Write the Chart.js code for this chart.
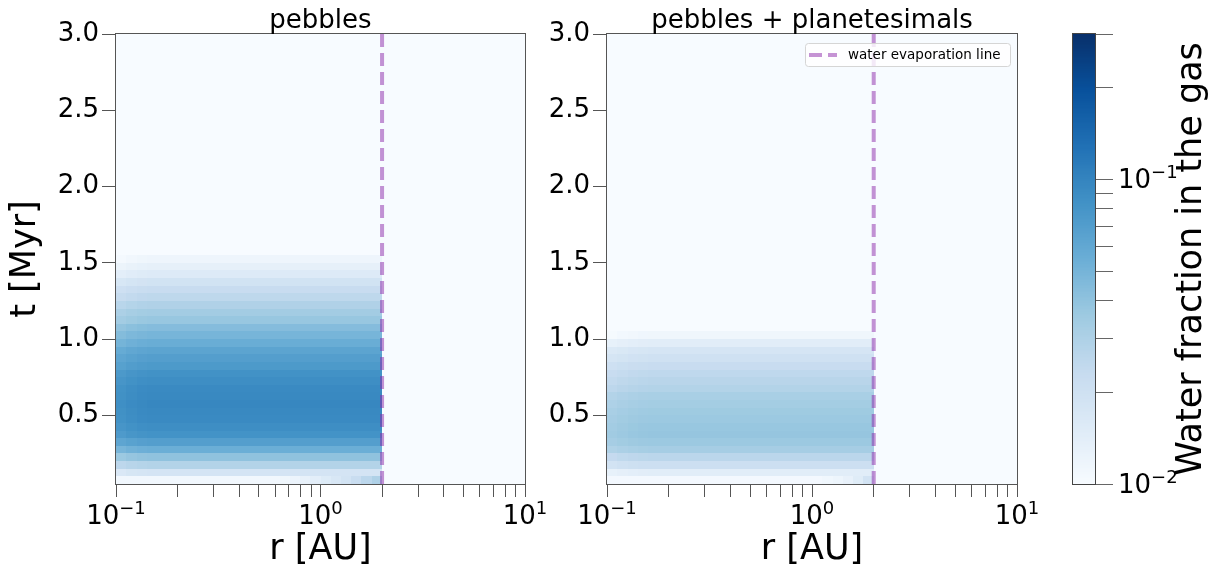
<!DOCTYPE html>
<html>
<head>
<meta charset="utf-8">
<script src="https://cdn.jsdelivr.net/npm/chart.js@4.4.1/dist/chart.umd.min.js"></script>
<style>
  html, body { margin: 0; padding: 0; background: #fff; }
  #wrap { position: relative; width: 1220px; height: 572px; }
  #wrap canvas { position: absolute; left: 0; top: 0; }
</style>
</head>
<body>
<div id="wrap">
  <canvas id="left" width="1220" height="572"></canvas>
  <canvas id="right" width="1220" height="572"></canvas>
  <canvas id="cbar" width="1220" height="572"></canvas>
</div>
<script>
// ---- values ----
const panelTitles = ['pebbles', 'pebbles + planetesimals'];
const legendLabel = 'water evaporation line';
const cbarLabel = 'Water fraction in the gas';

const rRange = [0.1, 10];
const tRange = [0.05, 3.0];
const cbarRange = [0.01, 0.3];
const evapLineR = 2.0;

// radial cell edges (AU), inside the evaporation line
const rEdges = [0.1, 0.112, 0.126, 0.141, 0.158, 0.178, 0.2, 0.224, 0.251, 0.282, 0.316, 0.355, 0.398,
  0.447, 0.501, 0.562, 0.631, 0.708, 0.794, 0.891, 1.0, 1.122, 1.259, 1.413, 1.585, 1.778, 2.0];

// time rows: lowest row [0.05, 0.10] is kept separately (it varies with r)
const bottomRowT = [0.05, 0.10];
const tStep = 0.05;
const tStarts = [0.10, 0.15, 0.20, 0.25, 0.30, 0.35, 0.40, 0.45, 0.50, 0.55, 0.60, 0.65, 0.70, 0.75,
  0.80, 0.85, 0.90, 0.95, 1.00, 1.05, 1.10, 1.15, 1.20, 1.25, 1.30, 1.35, 1.40, 1.45, 1.50];

// water fraction per time row (from t = 0.10 upward)
const pebblesRows = [0.0184, 0.0287, 0.0404, 0.0548, 0.0697, 0.0826, 0.0884, 0.0930, 0.0946, 0.0962,
  0.0946, 0.0930, 0.0884, 0.0840, 0.0745, 0.0697, 0.0640, 0.0558, 0.0495, 0.0441, 0.0377, 0.0341,
  0.0297, 0.0255, 0.0226, 0.0191, 0.0156, 0.0134, 0.0117];
const planetRows = [0.0145, 0.0212, 0.0264, 0.0329, 0.0365, 0.0384, 0.0377, 0.0365, 0.0353, 0.0335,
  0.0318, 0.0287, 0.0269, 0.0251, 0.0226, 0.0198, 0.0178, 0.0145, 0.0115];

// slight radial variation (inner edge a bit paler)
const pebblesColFactor = [0.9, 0.95, 0.98, 1, 1, 1, 1, 1, 1, 1, 1, 1, 1, 1, 1, 1, 1, 1, 1, 1, 1, 1, 1, 1, 1, 1];
const planetColFactor = [0.9, 0.94, 0.97, 0.99, 1, 1, 1, 1, 1, 1, 1, 1, 1, 1, 1, 1, 1, 1, 1, 1, 1, 1, 1, 1, 1, 1];

// lowest row, per radial cell
const pebblesBottomRow = [0.011, 0.011, 0.011, 0.011, 0.011, 0.011, 0.011, 0.011, 0.011, 0.011, 0.011,
  0.011, 0.011, 0.011, 0.011, 0.011, 0.0115, 0.012, 0.013, 0.014, 0.0155, 0.017, 0.019, 0.022, 0.026, 0.030];
const planetBottomRow = [0.0107, 0.0107, 0.0107, 0.0107, 0.0107, 0.0107, 0.0107, 0.0107, 0.0107, 0.0107,
  0.0107, 0.0107, 0.0107, 0.0107, 0.0107, 0.0107, 0.0107, 0.0107, 0.0107, 0.0107, 0.0107, 0.0112, 0.0118,
  0.013, 0.015, 0.019];

// tick values
const tTicks = [0.5, 1.0, 1.5, 2.0, 2.5, 3.0];
const rTicks = [0.1, 0.2, 0.3, 0.4, 0.5, 0.6, 0.7, 0.8, 0.9, 1, 2, 3, 4, 5, 6, 7, 8, 9, 10];
const cbarTicks = [0.01, 0.02, 0.03, 0.04, 0.05, 0.06, 0.07, 0.08, 0.09, 0.1, 0.2, 0.3];

// ---- colour map (matplotlib "Blues") on a log norm ----
const BLUES = [[247, 251, 255], [222, 235, 247], [198, 219, 239], [158, 202, 225], [107, 174, 214],
  [66, 146, 198], [33, 113, 181], [8, 81, 156], [8, 48, 107]];

function blues(v) {
  const lo = Math.log10(cbarRange[0]), hi = Math.log10(cbarRange[1]);
  let p = (Math.log10(Math.max(v, 1e-9)) - lo) / (hi - lo);
  p = Math.min(1, Math.max(0, p)) * (BLUES.length - 1);
  const i = Math.min(BLUES.length - 2, Math.floor(p));
  const f = p - i;
  const c = BLUES[i].map((a, k) => Math.round(a + (BLUES[i + 1][k] - a) * f));
  return `rgb(${c[0]},${c[1]},${c[2]})`;
}

// exponent of a power of ten, or null
function powExp(v) {
  const e = Math.log10(v);
  const n = Math.round(e);
  return Math.abs(e - n) > 1e-6 ? null : n;
}

function buildCells(rows, colFactor, bottomRow) {
  const cells = [{ r0: rRange[0], r1: rRange[1], t0: tRange[0], t1: tRange[1], v: cbarRange[0] }];
  for (let j = 0; j < rEdges.length - 1; j++) {
    cells.push({ r0: rEdges[j], r1: rEdges[j + 1], t0: bottomRowT[0], t1: bottomRowT[1], v: bottomRow[j] });
  }
  rows.forEach((rv, k) => {
    for (let j = 0; j < rEdges.length - 1; j++) {
      cells.push({ r0: rEdges[j], r1: rEdges[j + 1], t0: tStarts[k], t1: tStarts[k] + tStep, v: rv * colFactor[j] });
    }
  });
  return cells;
}

const FONT = 'DejaVu Sans';
Chart.defaults.font.family = FONT;
Chart.defaults.color = '#000';
const AXIS_GRAY = '#555';
const evapColor = 'rgba(140, 40, 170, 0.5)';

// heatmap cells, drawn through the chart's scales
const heatmapPlugin = {
  id: 'heatmap',
  beforeDatasetsDraw(chart, args, opts) {
    if (!opts.cells) return;
    const { ctx, chartArea: a, scales: { x, y } } = chart;
    ctx.save();
    ctx.beginPath();
    ctx.rect(a.left, a.top, a.width, a.height);
    ctx.clip();
    for (const c of opts.cells) {
      const x0 = Math.round(x.getPixelForValue(c.r0));
      const x1 = Math.round(x.getPixelForValue(c.r1));
      const y0 = Math.round(y.getPixelForValue(c.t1));
      const y1 = Math.round(y.getPixelForValue(c.t0));
      ctx.fillStyle = blues(c.v);
      ctx.fillRect(x0, y0, x1 - x0, y1 - y0);
    }
    ctx.restore();
  }
};

// "10^n" tick labels with a raised, smaller exponent (like mathtext)
function drawPow(ctx, n, x, baseline, align) {
  const base = '10';
  const exp = (n < 0 ? '\u2212' : '') + Math.abs(n);
  ctx.font = `26px "${FONT}"`;
  const wb = ctx.measureText(base).width;
  ctx.font = `18px "${FONT}"`;
  const we = ctx.measureText(exp).width;
  const x0 = align === 'center' ? x - (wb + we) / 2 : x;
  ctx.textAlign = 'left';
  ctx.textBaseline = 'alphabetic';
  ctx.fillStyle = '#000';
  ctx.font = `26px "${FONT}"`;
  ctx.fillText(base, x0, baseline);
  ctx.font = `18px "${FONT}"`;
  ctx.fillText(exp, x0 + wb, baseline - 10);
}

const powLabelPlugin = {
  id: 'powLabels',
  afterDraw(chart, args, opts) {
    if (!opts.axis) return;
    const { ctx } = chart;
    const scale = chart.scales[opts.axis];
    ctx.save();
    for (const t of scale.ticks) {
      const n = powExp(t.value);
      if (n === null) continue;
      const p = scale.getPixelForValue(t.value);
      if (opts.axis === 'x') drawPow(ctx, n, p, scale.top + 40, 'center');
      else drawPow(ctx, n, scale.left + 23, p + 8.5, 'left');
    }
    ctx.restore();
  }
};

// frame, panel title, legend, side label
const decorPlugin = {
  id: 'decor',
  afterDraw(chart, args, opts) {
    const { ctx, chartArea: a } = chart;
    ctx.save();
    ctx.strokeStyle = opts.frameColor || AXIS_GRAY;
    ctx.lineWidth = 1;
    ctx.strokeRect(Math.round(a.left) - 0.5, Math.round(a.top) - 0.5, Math.round(a.width) + 1, Math.round(a.height) + 1);

    if (opts.title) {
      ctx.fillStyle = '#000';
      ctx.font = `26px "${FONT}"`;
      ctx.textAlign = 'center';
      ctx.textBaseline = 'alphabetic';
      ctx.fillText(opts.title, (a.left + a.right) / 2, a.top - 6);
    }

    if (opts.legend) {
      const bw = 205, bh = 23;
      const bx = a.right - 7 - bw, by = a.top + 9;
      ctx.beginPath();
      ctx.roundRect(bx + 0.5, by + 0.5, bw, bh, 3);
      ctx.fillStyle = 'rgba(255,255,255,0.8)';
      ctx.fill();
      ctx.strokeStyle = '#d5d5d5';
      ctx.stroke();
      const ly = by + bh / 2 + 0.5;
      ctx.beginPath();
      ctx.setLineDash([13, 6]);
      ctx.moveTo(bx + 4, ly);
      ctx.lineTo(bx + 32, ly);
      ctx.strokeStyle = evapColor;
      ctx.lineWidth = 4;
      ctx.stroke();
      ctx.setLineDash([]);
      ctx.fillStyle = '#000';
      ctx.font = `13.5px "${FONT}"`;
      ctx.textAlign = 'left';
      ctx.textBaseline = 'middle';
      ctx.fillText(opts.legend, bx + 43, ly);
    }

    if (opts.sideLabel) {
      ctx.fillStyle = '#000';
      ctx.font = `35px "${FONT}"`;
      ctx.textAlign = 'center';
      ctx.textBaseline = 'alphabetic';
      ctx.translate(1200.5, (a.top + a.bottom) / 2);
      ctx.rotate(-Math.PI / 2);
      ctx.fillText(opts.sideLabel, 0, 0);
    }
    ctx.restore();
  }
};

// continuous colour bar, drawn through the y scale
const colorbarPlugin = {
  id: 'colorbar',
  beforeDatasetsDraw(chart, args, opts) {
    if (!opts.steps) return;
    const { ctx, chartArea: a, scales: { y } } = chart;
    const lo = Math.log10(cbarRange[0]), hi = Math.log10(cbarRange[1]);
    ctx.save();
    for (let i = 0; i < opts.steps; i++) {
      const v0 = Math.pow(10, lo + (hi - lo) * i / opts.steps);
      const v1 = Math.pow(10, lo + (hi - lo) * (i + 1) / opts.steps);
      const y0 = y.getPixelForValue(v1), y1 = y.getPixelForValue(v0);
      ctx.fillStyle = blues(Math.sqrt(v0 * v1));
      ctx.fillRect(a.left, Math.floor(y0), a.width, Math.ceil(y1) - Math.floor(y0));
    }
    ctx.restore();
  }
};

Chart.register(heatmapPlugin, decorPlugin, colorbarPlugin, powLabelPlugin);

function panelConfig(idx, cells, padLeft, padRight, withYTitle, withLegend) {
  return {
    type: 'scatter',
    data: {
      datasets: [{
        label: legendLabel,
        data: [{ x: evapLineR, y: tRange[0] }, { x: evapLineR, y: tRange[1] }],
        showLine: true,
        borderColor: evapColor,
        borderWidth: 4,
        borderDash: [13, 6],
        pointRadius: 0
      }]
    },
    options: {
      responsive: false,
      animation: false,
      events: [],
      layout: { padding: { left: padLeft, right: padRight, top: 34, bottom: 0 } },
      plugins: {
        legend: { display: false },
        tooltip: { enabled: false },
        heatmap: { cells },
        powLabels: { axis: 'x' },
        decor: { title: panelTitles[idx], legend: withLegend ? legendLabel : null }
      },
      scales: {
        x: {
          type: 'logarithmic',
          min: rRange[0],
          max: rRange[1],
          afterBuildTicks: s => { s.ticks = rTicks.map(v => ({ value: v })); },
          afterFit: s => { s.height = 88; },
          ticks: { display: false },
          grid: { drawOnChartArea: false, drawTicks: true, tickLength: 13, color: AXIS_GRAY },
          border: { display: false },
          title: { display: true, text: 'r [AU]', font: { size: 35 }, padding: { top: 0, bottom: 1 } }
        },
        y: {
          type: 'linear',
          min: tRange[0],
          max: tRange[1],
          afterBuildTicks: s => { s.ticks = tTicks.map(v => ({ value: v })); },
          afterFit: s => { s.width = 116; },
          ticks: { font: { size: 26 }, padding: 3, callback: v => Number(v).toFixed(1) },
          grid: { drawOnChartArea: false, drawTicks: true, tickLength: 14, color: AXIS_GRAY },
          border: { display: false },
          title: { display: withYTitle, text: 't [Myr]', font: { size: 35 }, padding: { top: 5, bottom: 0 } }
        }
      }
    }
  };
}

new Chart(document.getElementById('left'),
  panelConfig(0, buildCells(pebblesRows, pebblesColFactor, pebblesBottomRow), 0, 695, true, false));

new Chart(document.getElementById('right'),
  panelConfig(1, buildCells(planetRows, planetColFactor, planetBottomRow), 491, 203, false, true));

new Chart(document.getElementById('cbar'), {
  type: 'scatter',
  data: { datasets: [] },
  options: {
    responsive: false,
    animation: false,
    events: [],
    layout: { padding: { left: 1073, right: 25, top: 34, bottom: 88 } },
    plugins: {
      legend: { display: false },
      tooltip: { enabled: false },
      colorbar: { steps: 300 },
      powLabels: { axis: 'y' },
      decor: { frameColor: '#444', sideLabel: cbarLabel }
    },
    scales: {
      x: { display: false, min: 0, max: 1 },
      y: {
        type: 'logarithmic',
        position: 'right',
        min: cbarRange[0],
        max: cbarRange[1],
        afterBuildTicks: s => { s.ticks = cbarTicks.map(v => ({ value: v })); },
        afterFit: s => { s.width = 100; },
        ticks: { display: false },
        grid: { drawOnChartArea: false, drawTicks: true, tickLength: 18, color: '#666' },
        border: { display: false }
      }
    }
  }
});
</script>
</body>
</html>
